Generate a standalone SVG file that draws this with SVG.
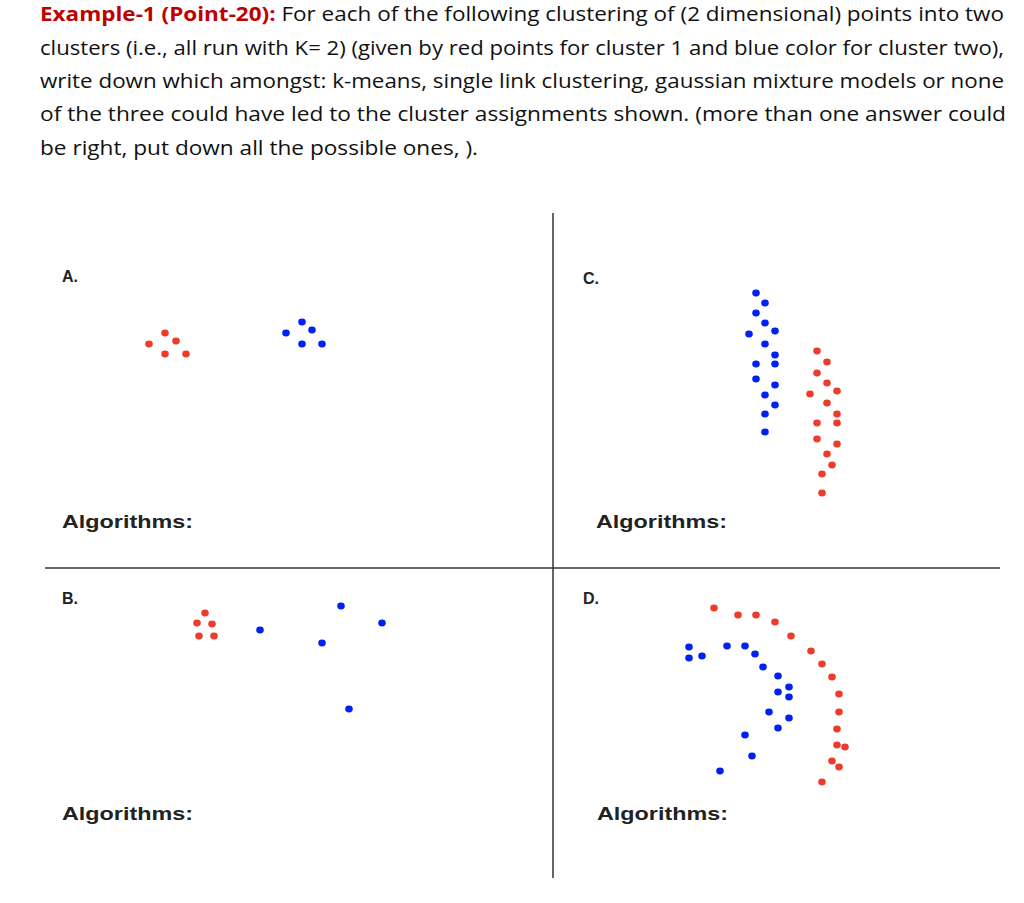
<svg xmlns="http://www.w3.org/2000/svg" width="1024" height="903" viewBox="0 0 1024 903">
<style>
.h{font-family:"Open Sans","Noto Sans",sans-serif;font-size:20px;fill:#111}
.hr{fill:#c00000;font-weight:bold}
.l{font-family:"Liberation Sans",Arial,sans-serif;font-weight:bold;fill:#222}
.r{fill:#ee3b2b}.b{fill:#0021f3}
</style>
<defs><ellipse id="d" rx="3.8" ry="3.4"/></defs>
<rect width="1024" height="903" fill="#fff"/>
<g id="header">
<text class="h" x="40" y="21" textLength="964" lengthAdjust="spacingAndGlyphs"><tspan class="hr">Example-1 (Point-20):</tspan> For each of the following clustering of (2 dimensional) points into two</text>
<text class="h" x="40" y="55" textLength="964" lengthAdjust="spacingAndGlyphs">clusters (i.e., all run with K= 2) (given by red points for cluster 1 and blue color for cluster two),</text>
<text class="h" x="40" y="88" textLength="964" lengthAdjust="spacingAndGlyphs">write down which amongst: k-means, single link clustering, gaussian mixture models or none</text>
<text class="h" x="40" y="121" textLength="966" lengthAdjust="spacingAndGlyphs">of the three could have led to the cluster assignments shown. (more than one answer could</text>
<text class="h" x="40" y="155" textLength="438" lengthAdjust="spacingAndGlyphs">be right, put down all the possible ones, ).</text>
</g>
<g id="connectors" stroke="#333" stroke-width="1.5">
<line x1="553" y1="213" x2="553" y2="878"/>
<line x1="45" y1="568" x2="1000" y2="568"/>
</g>
<g id="labels" class="l">
<text x="62" y="282" font-size="16">A.</text>
<text x="583" y="284" font-size="16">C.</text>
<text x="62" y="604" font-size="16">B.</text>
<text x="583" y="604" font-size="16">D.</text>
<text x="62" y="528" font-size="19" textLength="131" lengthAdjust="spacingAndGlyphs">Algorithms:</text>
<text x="596" y="528" font-size="19" textLength="131" lengthAdjust="spacingAndGlyphs">Algorithms:</text>
<text x="62" y="820" font-size="19" textLength="131" lengthAdjust="spacingAndGlyphs">Algorithms:</text>
<text x="597" y="820" font-size="19" textLength="131" lengthAdjust="spacingAndGlyphs">Algorithms:</text>
</g>
<g id="panelA">
<g class="r"><use href="#d" x="165" y="333"/><use href="#d" x="149" y="344"/><use href="#d" x="176" y="341"/><use href="#d" x="165" y="354"/><use href="#d" x="186" y="354"/></g>
<g class="b"><use href="#d" x="302" y="322"/><use href="#d" x="286" y="333"/><use href="#d" x="312" y="330"/><use href="#d" x="302" y="344"/><use href="#d" x="322" y="344"/></g>
</g>
<g id="panelB">
<g class="r"><use href="#d" x="205" y="613"/><use href="#d" x="197" y="623"/><use href="#d" x="212" y="624"/><use href="#d" x="199" y="636"/><use href="#d" x="214" y="636"/></g>
<g class="b"><use href="#d" x="260" y="630"/><use href="#d" x="341" y="606"/><use href="#d" x="322" y="643"/><use href="#d" x="382" y="623"/><use href="#d" x="349" y="709"/></g>
</g>
<g id="panelC">
<g class="b"><use href="#d" x="756" y="293"/><use href="#d" x="765" y="303"/><use href="#d" x="756" y="313"/><use href="#d" x="765" y="323"/><use href="#d" x="749" y="334"/><use href="#d" x="775" y="331"/><use href="#d" x="765" y="344"/><use href="#d" x="775" y="355"/><use href="#d" x="756" y="364"/><use href="#d" x="775" y="364"/><use href="#d" x="756" y="379"/><use href="#d" x="775" y="385"/><use href="#d" x="765" y="395"/><use href="#d" x="775" y="405"/><use href="#d" x="765" y="414"/><use href="#d" x="765" y="432"/></g>
<g class="r"><use href="#d" x="817" y="351"/><use href="#d" x="827" y="362"/><use href="#d" x="817" y="373"/><use href="#d" x="827" y="383"/><use href="#d" x="837" y="391"/><use href="#d" x="810" y="394"/><use href="#d" x="827" y="403"/><use href="#d" x="837" y="414"/><use href="#d" x="817" y="423"/><use href="#d" x="837" y="423"/><use href="#d" x="817" y="439"/><use href="#d" x="837" y="444"/><use href="#d" x="827" y="454"/><use href="#d" x="832" y="465"/><use href="#d" x="822" y="474"/><use href="#d" x="822" y="493"/></g>
</g>
<g id="panelD">
<g class="r"><use href="#d" x="714" y="608"/><use href="#d" x="738" y="615"/><use href="#d" x="756" y="615"/><use href="#d" x="775" y="622"/><use href="#d" x="791" y="636"/><use href="#d" x="811" y="651"/><use href="#d" x="822" y="664"/><use href="#d" x="832" y="677"/><use href="#d" x="839" y="694"/><use href="#d" x="839" y="712"/><use href="#d" x="837" y="729"/><use href="#d" x="837" y="745"/><use href="#d" x="845" y="747"/><use href="#d" x="832" y="761"/><use href="#d" x="839" y="767"/><use href="#d" x="822" y="782"/></g>
<g class="b"><use href="#d" x="689" y="647"/><use href="#d" x="689" y="658"/><use href="#d" x="702" y="656"/><use href="#d" x="727" y="646"/><use href="#d" x="745" y="646"/><use href="#d" x="755" y="654"/><use href="#d" x="763" y="667"/><use href="#d" x="778" y="676"/><use href="#d" x="789" y="687"/><use href="#d" x="778" y="692"/><use href="#d" x="789" y="697"/><use href="#d" x="769" y="712"/><use href="#d" x="789" y="718"/><use href="#d" x="778" y="728"/><use href="#d" x="745" y="735"/><use href="#d" x="752" y="756"/><use href="#d" x="720" y="771"/></g>
</g>
</svg>
